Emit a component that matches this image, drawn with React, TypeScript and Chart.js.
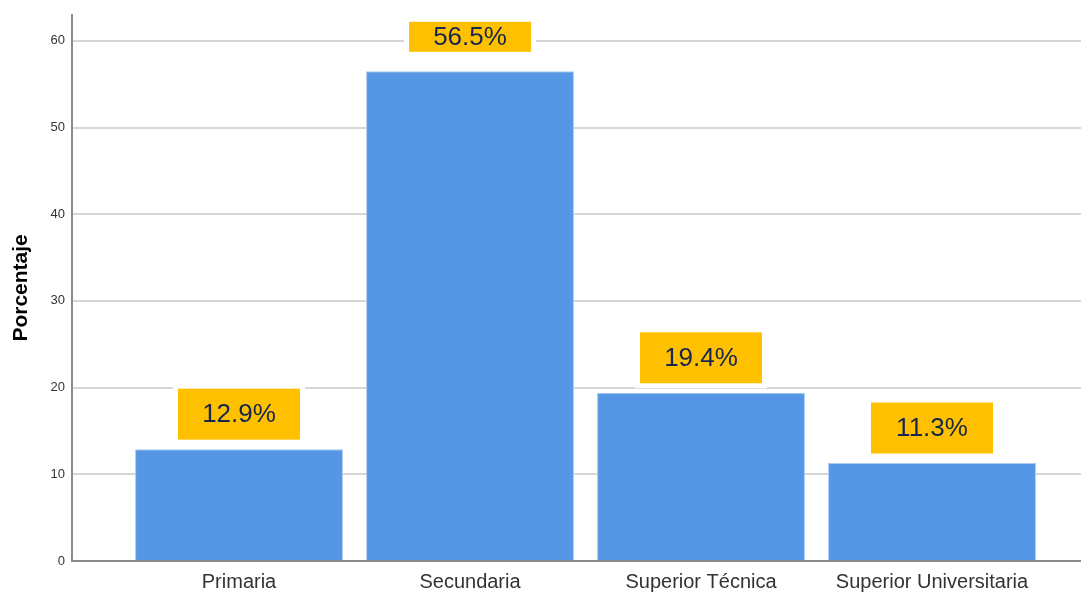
import React, { useEffect, useRef } from "react";
import { Chart, registerables } from "chart.js";

Chart.register(...registerables);

const categories = ["Primaria", "Secundaria", "Superior Técnica", "Superior Universitaria"];
const values = [12.9, 56.5, 19.4, 11.3];
const valueLabels = ["12.9%", "56.5%", "19.4%", "11.3%"];
const yTicks = [0, 10, 20, 30, 40, 50, 60];
const yTitle = "Porcentaje";

const labelBoxPlugin = {
  id: "labelBoxes",
  afterDatasetsDraw(chart: any) {
    const ctx = chart.ctx;
    const meta = chart.getDatasetMeta(0);
    const area = chart.chartArea;
    ctx.save();
    meta.data.forEach((el: any, i: number) => {
      const w = 122;
      let h = 51;
      const cx = el.x;
      let cy = el.y - 35;
      let top = cy - h / 2;
      if (top < area.top + 7) {
        top = area.top + 7;
        h = 30;
        cy = top + h / 2;
      }
      const left = cx - w / 2;
      ctx.fillStyle = "#ffffff";
      ctx.fillRect(left - 5, top - 5, w + 10, h + 10);
      ctx.fillStyle = "#FFC000";
      ctx.fillRect(left, top, w, h);
      ctx.fillStyle = "#15264f";
      ctx.font = "26px 'Liberation Sans', Arial, sans-serif";
      ctx.textAlign = "center";
      ctx.textBaseline = "middle";
      ctx.fillText(valueLabels[i], cx, cy + 1);
    });
    ctx.restore();
  },
};

export default function App() {
  const ref = useRef<HTMLCanvasElement | null>(null);
  useEffect(() => {
    if (!ref.current) return;
    const chart = new Chart(ref.current, {
      type: "bar",
      data: {
        datasets: [
          {
            data: values.map((v, i) => ({ x: i, y: v })),
            backgroundColor: "#5596E5",
            borderColor: "#a9c9f1",
            borderWidth: 1,
            borderSkipped: "start",
            categoryPercentage: 1,
            barPercentage: 0.9,
          },
        ],
      },
      options: {
        animation: false,
        responsive: false,
        layout: { padding: { top: 14, left: 0, right: 0, bottom: 0 } },
        plugins: { legend: { display: false }, tooltip: { enabled: false } },
        scales: {
          x: {
            type: "linear",
            offset: false,
            bounds: "data",
            min: -0.723,
            max: 3.645,
            afterBuildTicks: (scale: any) => {
              scale.ticks = categories.map((_, i) => ({ value: i }));
            },
            afterFit: (scale: any) => {
              scale.height = 32;
            },
            grid: { display: false, drawTicks: false, offset: false },
            border: { display: true, color: "#8a8a8a", width: 2 },
            ticks: {
              autoSkip: false,
              maxRotation: 0,
              padding: 9,
              color: "#333333",
              font: { family: "'Liberation Sans', Arial, sans-serif", size: 20 },
              callback: (v: any) => categories[v] ?? "",
            },
          },
          y: {
            min: 0,
            max: 63,
            afterBuildTicks: (scale: any) => {
              scale.ticks = yTicks.map((v) => ({ value: v }));
            },
            afterFit: (scale: any) => {
              scale.width = 72;
            },
            grid: { color: "#d6d6d6", lineWidth: 2, drawTicks: false },
            border: { display: true, color: "#8a8a8a", width: 2 },
            ticks: {
              padding: 7,
              color: "#333333",
              font: { family: "'Liberation Sans', Arial, sans-serif", size: 13 },
            },
            title: {
              display: true,
              text: yTitle,
              color: "#000000",
              padding: { top: 9, bottom: 0 },
              font: { family: "'Liberation Sans', Arial, sans-serif", size: 21, weight: "bold" },
            },
          },
        },
      },
      plugins: [labelBoxPlugin],
    });
    return () => chart.destroy();
  }, []);
  return (
    <div style={{ position: "fixed", left: 0, top: 0, width: 1081, height: 593, background: "#fff" }}>
      <canvas ref={ref} width={1081} height={593} style={{ display: "block" }} />
    </div>
  );
}
